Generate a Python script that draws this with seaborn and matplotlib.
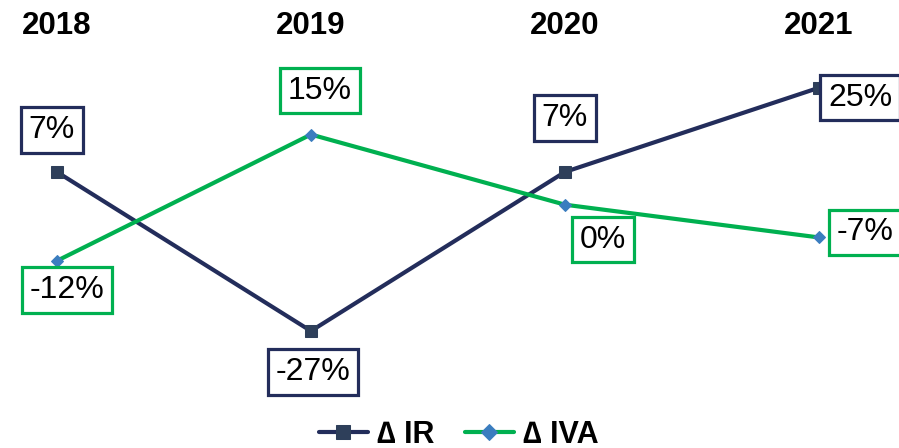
import seaborn as sns
import matplotlib.pyplot as plt
import pandas as pd

years = ["2018", "2019", "2020", "2021"]
ir = [7, -27, 7, 25]
iva = [-12, 15, 0, -7]

# desplazamiento de cada etiqueta en pixeles (dx, dy)
ir_off = [(-5, 42), (2, -41), (0, 54), (41, -10)]
iva_off = [(10, -29), (9, 44), (38, -35), (46, 5)]

navy = "#232D5B"
green = "#00B050"

sns.set_style("white")
plt.rcParams["font.family"] = ["Liberation Sans", "DejaVu Sans"]
plt.rcParams["text.color"] = "black"

df = pd.DataFrame({"x": range(len(years)), "ir": ir, "iva": iva})

fig = plt.figure(figsize=(8.99, 4.48), dpi=100)
ax = fig.add_axes([0, 0, 1, 1])

sns.lineplot(data=df, x="x", y="ir", ax=ax, color=navy, linewidth=3,
             marker="s", markersize=8, markerfacecolor="#2E3F5A",
             markeredgecolor="#2E3F5A", label="∆ IR")
sns.lineplot(data=df, x="x", y="iva", ax=ax, color=green, linewidth=3,
             marker="D", markersize=6, markerfacecolor="#3B7DBF",
             markeredgecolor="#3B7DBF", label="∆ IVA")

ax.set_xlim(-0.224, 3.315)
ax.set_ylim(-52, 43.75)
ax.axis("off")

for i, y in enumerate(years):
    ax.annotate(y, (i, 0.942), xycoords=("data", "axes fraction"),
                ha="center", va="center", fontsize=22.5, fontweight="bold",
                color="black")

def etiquetas(vals, offs, col):
    for i, (v, o) in enumerate(zip(vals, offs)):
        ax.annotate(f"{v}%", (i, v), xytext=o, textcoords="offset pixels",
                    ha="center", va="center", fontsize=23, color="black",
                    bbox=dict(boxstyle="square,pad=0.24", fc="white",
                              ec=col, lw=2.3))

etiquetas(ir, ir_off, navy)
etiquetas(iva, iva_off, green)

leg = ax.legend(loc="lower center", bbox_to_anchor=(0.51, -0.065), ncol=2,
                frameon=False, handlelength=1.6, handletextpad=0.3,
                columnspacing=1.0, markerscale=1.3,
                prop={"size": 22, "weight": "bold"})
for t in leg.get_texts():
    t.set_color("black")

fig.savefig("out.png", dpi=100)
